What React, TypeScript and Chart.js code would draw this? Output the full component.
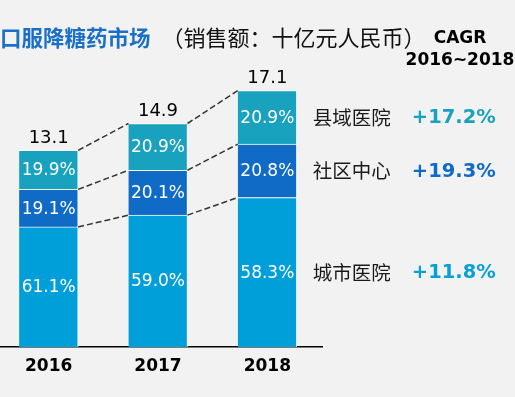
import React, { useEffect, useRef } from "react";
import { Chart, registerables } from "chart.js";
Chart.register(...registerables);

const years = ["2016", "2017", "2018"];
const totals = [13.1, 14.9, 17.1];
const segmentNames = ["城市医院", "社区中心", "县域医院"];
const cityShare = [61.1, 59.0, 58.3];
const communityShare = [19.1, 20.1, 20.8];
const countyShare = [19.9, 20.9, 20.9];
const cagrLabels = ["+11.8%", "+19.3%", "+17.2%"];
const segmentColors = ["#009FD9", "#0F6BC5", "#18A2BD"];
const cagrColors = ["#0A9FD6", "#0F6BC5", "#18A2BD"];

const shares = [cityShare, communityShare, countyShare];

const LATIN = "'DejaVu Sans', Verdana, sans-serif";
const CJK = "'Noto Sans CJK SC', sans-serif";

const overlayPlugin = {
  id: "overlay",
  afterDatasetsDraw(chart: any) {
    const ctx = chart.ctx as CanvasRenderingContext2D;
    const metas = chart.data.datasets.map((_: any, i: number) => chart.getDatasetMeta(i));
    ctx.save();
    // dashed connectors
    ctx.setLineDash([6, 3]);
    ctx.strokeStyle = "#333333";
    ctx.lineWidth = 1.5;
    metas.forEach((meta: any) => {
      for (let j = 0; j < meta.data.length - 1; j++) {
        const a = meta.data[j];
        const b = meta.data[j + 1];
        ctx.beginPath();
        ctx.moveTo(a.x + a.width / 2, a.y);
        ctx.lineTo(b.x - b.width / 2, b.y);
        ctx.stroke();
      }
    });
    ctx.setLineDash([]);
    // segment share labels
    ctx.textAlign = "center";
    ctx.textBaseline = "middle";
    ctx.font = `17px ${LATIN}`;
    ctx.fillStyle = "#ffffff";
    metas.forEach((meta: any, i: number) => {
      meta.data.forEach((el: any, j: number) => {
        ctx.fillText(shares[i][j].toFixed(1) + "%", el.x, (el.y + el.base) / 2 + 1);
      });
    });
    // totals
    const topMeta = metas[metas.length - 1];
    ctx.font = `18px ${LATIN}`;
    ctx.fillStyle = "#000000";
    topMeta.data.forEach((el: any, j: number) => {
      ctx.fillText(totals[j].toFixed(1), el.x, el.y - 12);
    });
    // right side labels
    ctx.textAlign = "left";
    metas.forEach((meta: any, i: number) => {
      const el = meta.data[meta.data.length - 1];
      const cy = (el.y + el.base) / 2;
      const right = el.x + el.width / 2;
      ctx.font = `19.5px ${CJK}`;
      ctx.fillStyle = "#1a1a1a";
      ctx.fillText(segmentNames[i], right + 16, cy);
      ctx.font = `bold 19.5px ${LATIN}`;
      ctx.fillStyle = cagrColors[i];
      ctx.fillText(cagrLabels[i], right + 115, cy + 1);
    });
    ctx.restore();
  },
};

export default function App() {
  const ref = useRef<HTMLCanvasElement | null>(null);
  useEffect(() => {
    if (!ref.current) return;
    const datasets = shares.map((s, i) => ({
      label: segmentNames[i],
      data: s.map((v, j) => (totals[j] * v) / 100),
      backgroundColor: segmentColors[i],
      borderColor: "rgba(255,255,255,0.85)",
      borderWidth: { top: 1, right: 1, left: 0, bottom: 0 },
      borderSkipped: false,
      barThickness: 59,
    }));
    const chart = new Chart(ref.current, {
      type: "bar",
      data: { labels: years, datasets },
      options: {
        animation: false,
        responsive: false,
        devicePixelRatio: 1,
        layout: { padding: { top: 47, right: 193, bottom: 11, left: 0 } },
        plugins: { legend: { display: false }, tooltip: { enabled: false }, title: { display: false } },
        scales: {
          x: {
            stacked: true,
            grid: { display: false, drawTicks: false },
            border: { display: true, color: "#000000", width: 1.5 },
            ticks: {
              color: "#000000",
              padding: 9.3,
              font: { family: LATIN, size: 17, weight: "bold" },
            },
          },
          y: { stacked: true, display: false, min: 0, max: 20 },
        },
      },
      plugins: [overlayPlugin],
    } as any);
    return () => chart.destroy();
  }, []);

  return (
    <div
      style={{
        position: "fixed",
        left: 0,
        top: 0,
        width: 515,
        height: 397,
        background: "#F2F2F2",
        overflow: "hidden",
      }}
    >
      <canvas
        ref={ref}
        width={521}
        height={397}
        style={{ position: "absolute", left: -6, top: 0, width: 521, height: 397 }}
      />
      <div
        style={{
          position: "absolute",
          left: 0,
          top: 25,
          fontFamily: CJK,
          lineHeight: "22px",
          whiteSpace: "nowrap",
        }}
      >
        <span style={{ color: "#1A6FC6", fontWeight: "bold", fontSize: 21.5 }}>口服降糖药市场</span>
        <span style={{ color: "#111111", marginLeft: 11, fontSize: 22 }}>（销售额：十亿元人民币）</span>
      </div>
      <div
        style={{
          position: "absolute",
          left: 400,
          top: 26,
          width: 120,
          textAlign: "center",
          fontFamily: LATIN,
          fontWeight: "bold",
          fontSize: 17,
          lineHeight: "22px",
          color: "#000000",
          whiteSpace: "nowrap",
        }}
      >
        <div>CAGR</div>
        <div>2016~2018</div>
      </div>
    </div>
  );
}
